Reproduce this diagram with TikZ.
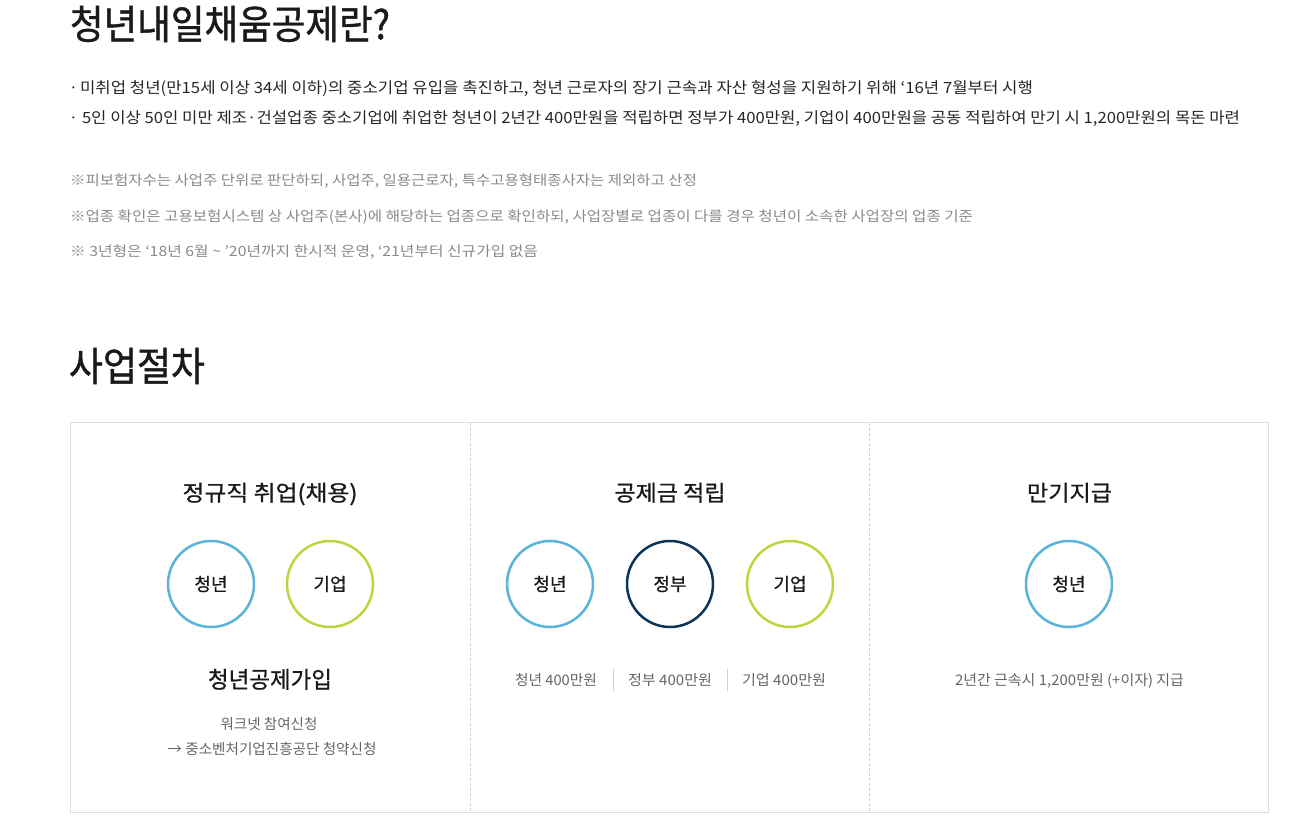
\documentclass[tikz,border=0pt]{standalone}
\usepackage{fontspec}
\usepackage{graphicx}
\setmainfont{Noto Sans CJK KR}
\newfontfamily\titlefont[FakeBold=1.1]{Noto Sans CJK KR}
\newfontfamily\medfont[FakeBold=0.7]{Noto Sans CJK KR}
\definecolor{txtdark}{HTML}{1A1A1A}
\definecolor{txtbody}{HTML}{262626}
\definecolor{txtnote}{HTML}{8A8A8A}
\definecolor{txtgray}{HTML}{666666}
\definecolor{boxline}{HTML}{DDDDDD}
\definecolor{divline}{HTML}{D2D2D2}
\definecolor{cblue}{HTML}{5AB4D9}
\definecolor{cnavy}{HTML}{0C3558}
\definecolor{clime}{HTML}{C2D340}
\newcommand{\fitw}[2]{\resizebox{#1pt}{\height}{#2}}
\tikzset{
  txt/.style={inner sep=0pt, outer sep=0pt},
  bigtitle/.style={txt, anchor=base west, text=txtdark, font=\titlefont\fontsize{40}{44}\selectfont},
  bodytxt/.style={txt, anchor=base west, text=txtbody, font=\fontsize{15.5}{18}\selectfont},
  notetxt/.style={txt, anchor=base west, text=txtnote, font=\fontsize{14}{17}\selectfont},
  colhead/.style={txt, anchor=base, text=txtdark, font=\medfont\fontsize{22}{26}\selectfont},
  circ/.style={circle, draw, line width=2.5pt, minimum size=86pt, inner sep=0pt, text=txtdark, font=\medfont\fontsize{18}{20}\selectfont},
  smalltxt/.style={txt, anchor=base, text=txtgray, font=\fontsize{14.5}{17}\selectfont},
}
\begin{document}
\begin{tikzpicture}[x=1pt, y=-1pt]
\useasboundingbox (0,0) rectangle (1312,826);
\fill[white] (0,0) rectangle (1312,826);
% title
\node[bigtitle] (title) at (70,39) {\fitw{320}{청년내일채움공제란?}};
% bullets
\node[bodytxt] (b1dot) at (69,93.5) {·};
\node[bodytxt] (b1) at (80,93.5) {\fitw{953}{미취업 청년(만15세 이상 34세 이하)의 중소기업 유입을 촉진하고, 청년 근로자의 장기 근속과 자산 형성을 지원하기 위해 ‘16년 7월부터 시행}};
\node[bodytxt] (b2dot) at (69,123.5) {·};
\node[bodytxt] (b2) at (82,123.5) {\fitw{1158}{5인 이상 50인 미만 제조·건설업종 중소기업에 취업한 청년이 2년간 400만원을 적립하면 정부가 400만원, 기업이 400만원을 공동 적립하여 만기 시 1,200만원의 목돈 마련}};
% notes
\node[notetxt] (n1) at (70,185.5) {\fitw{627}{※피보험자수는 사업주 단위로 판단하되, 사업주, 일용근로자, 특수고용형태종사자는 제외하고 산정}};
\node[notetxt] (n2) at (70,221.5) {\fitw{903}{※업종 확인은 고용보험시스템 상 사업주(본사)에 해당하는 업종으로 확인하되, 사업장별로 업종이 다를 경우 청년이 소속한 사업장의 업종 기준}};
\node[notetxt] (n3) at (70,256.5) {\fitw{468}{※ 3년형은 ‘18년 6월 \textasciitilde{} ’20년까지 한시적 운영, ‘21년부터 신규가입 없음}};
% section heading
\node[bigtitle] (sec) at (69,381) {\fitw{136}{사업절차}};
% box
\draw[boxline, line width=1pt] (70.5,422.5) rectangle (1268.5,812.5);
\coordinate (d1t) at (470,423); \coordinate (d1b) at (470,812);
\coordinate (d2t) at (869,423); \coordinate (d2b) at (869,812);
\draw[divline, line width=1pt, dash pattern=on 3pt off 2pt] (d1t) -- (d1b);
\draw[divline, line width=1pt, dash pattern=on 3pt off 2pt] (d2t) -- (d2b);
% column 1
\node[colhead] (h1) at (270,501) {\fitw{175}{정규직 취업(채용)}};
\node[circ, draw=cblue] (c1a) at (211,584) {청년};
\node[circ, draw=clime] (c1b) at (330,584) {기업};
\node[colhead, font=\medfont\fontsize{23}{26}\selectfont] (j1) at (270,688) {\fitw{124}{청년공제가입}};
\node[smalltxt] (s1) at (269,729.5) {\fitw{97}{워크넷 참여신청}};
\node[smalltxt] (s2) at (272,754.5) {\fitw{209}{→ 중소벤처기업진흥공단 청약신청}};
% column 2
\node[colhead] (h2) at (670,501) {\fitw{111}{공제금 적립}};
\node[circ, draw=cblue] (c2a) at (550,584) {청년};
\node[circ, draw=cnavy] (c2b) at (670,584) {정부};
\node[circ, draw=clime] (c2c) at (790,584) {기업};
\node[smalltxt] (m1) at (556,685.5) {\fitw{82}{청년 400만원}};
\node[smalltxt] (m2) at (670,685.5) {\fitw{84}{정부 400만원}};
\node[smalltxt] (m3) at (784,685.5) {\fitw{84}{기업 400만원}};
\coordinate (sp1t) at (613,669); \coordinate (sp1b) at (613,691);
\coordinate (sp2t) at (727,669); \coordinate (sp2b) at (727,691);
\draw[divline, line width=1pt] (sp1t) -- (sp1b);
\draw[divline, line width=1pt] (sp2t) -- (sp2b);
% column 3
\node[colhead] (h3) at (1069.5,501) {\fitw{85}{만기지급}};
\node[circ, draw=cblue] (c3a) at (1069,584) {청년};
\node[smalltxt] (p3) at (1069.5,685.5) {\fitw{229}{2년간 근속시 1,200만원 (+이자) 지급}};
\end{tikzpicture}
\end{document}
